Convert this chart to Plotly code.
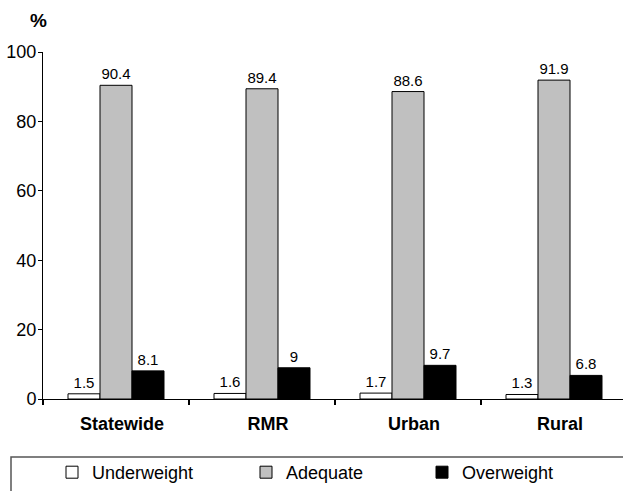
import plotly.graph_objects as go

categories = ["Statewide", "RMR", "Urban", "Rural"]
underweight = [1.5, 1.6, 1.7, 1.3]
adequate = [90.4, 89.4, 88.6, 91.9]
overweight = [8.1, 9, 9.7, 6.8]
y_ticks = [0, 20, 40, 60, 80, 100]

FONT = "Liberation Sans, Arial, sans-serif"

def fmt(v):
    return ("%g" % v)

W, H = 623, 491
ml, mr, mt, mb = 43, 0, 52, 92
pw = W - ml - mr
ph = H - mt - mb
cat_px = 146.0

def px_x(p):
    return (p - ml) / pw

def px_y(p):
    return (H - mb - p) / ph

fig = go.Figure()
series = [
    ("Underweight", underweight, "white", "legend", 52),
    ("Adequate", adequate, "#c0c0c0", "legend2", 246),
    ("Overweight", overweight, "black", "legend3", 422),
]
legends = {}
for name, vals, col, leg, lx in series:
    fig.add_trace(go.Bar(
        name=name, x=categories, y=vals, legend=leg,
        marker=dict(color=col, line=dict(color="black", width=1)),
        text=[fmt(v) for v in vals], textposition="outside",
        textfont=dict(size=15, color="black", family=FONT),
        constraintext="none", cliponaxis=False,
    ))
    legends[leg] = dict(
        orientation="h", x=px_x(lx), y=px_y(H),
        xanchor="left", yanchor="bottom",
        font=dict(size=18, family=FONT, color="black"),
        bgcolor="rgba(0,0,0,0)", borderwidth=0,
    )

fig.update_layout(
    template="none",
    width=W, height=H,
    margin=dict(l=ml, r=mr, t=mt, b=mb, pad=0),
    paper_bgcolor="white", plot_bgcolor="white",
    barmode="group", bargap=50 / cat_px, bargroupgap=0,
    font=dict(family=FONT, color="black"),
    showlegend=True,
    xaxis=dict(
        range=[-0.5, -0.5 + pw / cat_px], automargin=False,
        showline=True, linecolor="black", linewidth=1,
        ticks="outside", tickson="boundaries", ticklen=5, tickcolor="black", tickwidth=2,
        tickfont=dict(size=18, family=FONT, color="black", weight="bold"),
        showgrid=False, zeroline=False, fixedrange=True,
        ticklabelstandoff=8, ticklabelshift=6,
    ),
    yaxis=dict(
        range=[0, 100], tickvals=y_ticks, automargin=False,
        showline=True, linecolor="black", linewidth=1,
        ticks="outside", ticklen=4, tickcolor="black",
        tickfont=dict(size=18, family=FONT, color="black"),
        showgrid=False, zeroline=False, fixedrange=True,
        ticklabelstandoff=-2,
    ),
    shapes=[dict(
        type="rect", xref="paper", yref="paper",
        x0=px_x(11), x1=px_x(660), y0=px_y(457), y1=px_y(530),
        line=dict(color="#555555", width=1.5), fillcolor="rgba(0,0,0,0)",
    )],
    annotations=[dict(
        text="<b>%</b>", xref="paper", yref="paper",
        x=px_x(38), y=px_y(21), showarrow=False,
        font=dict(size=19, family=FONT, color="black"),
        xanchor="center", yanchor="middle",
    )],
    **legends,
)

fig.write_html(
    "out.html",
    config={"displayModeBar": False},
    post_script="document.body.style.margin='0';",
)
